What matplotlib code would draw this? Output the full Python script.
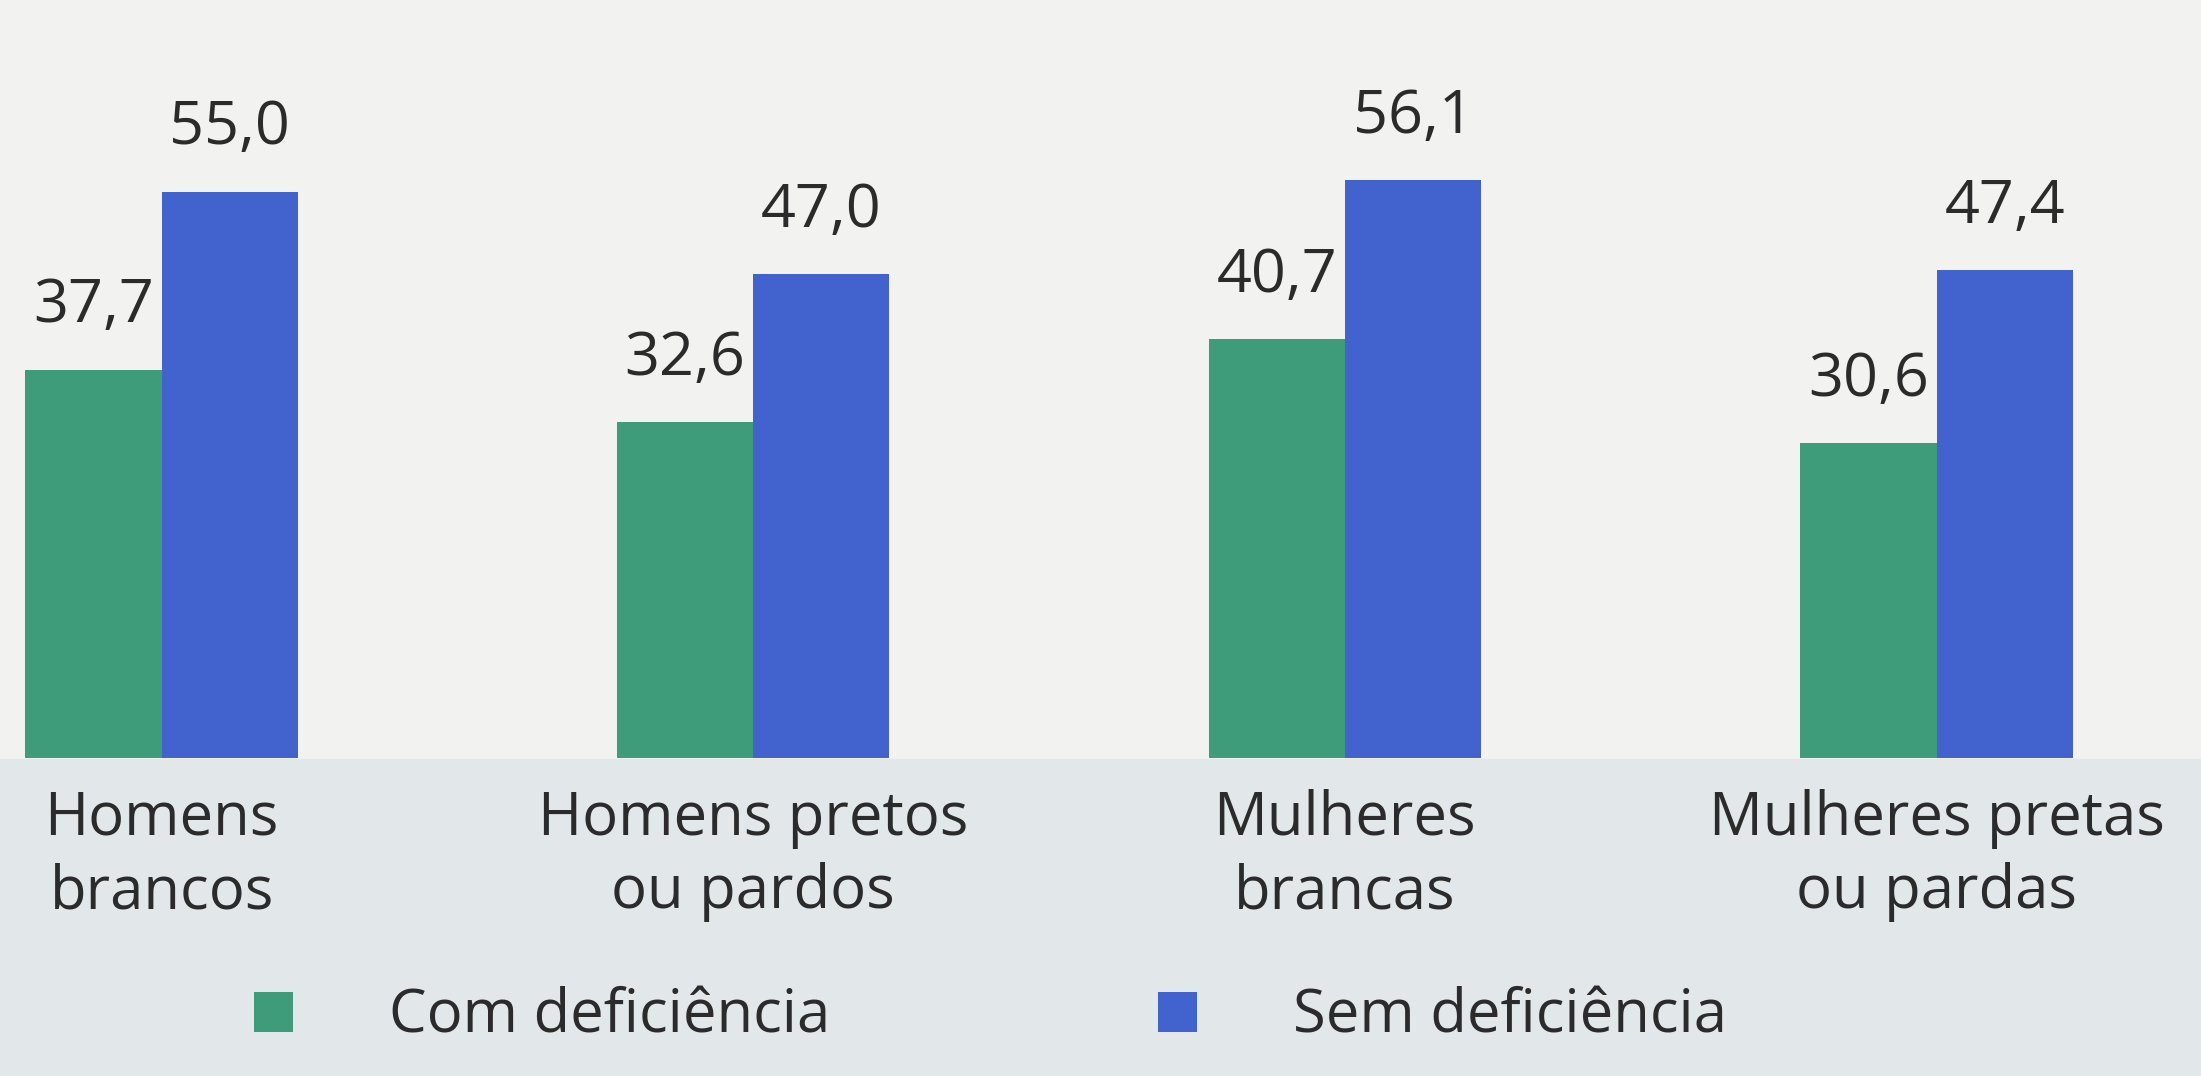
import numpy as np
import matplotlib
matplotlib.use('Agg')
import matplotlib.pyplot as plt
from matplotlib.patches import Rectangle

categories = ['Homens\nbrancos', 'Homens pretos\nou pardos', 'Mulheres\nbrancas', 'Mulheres pretas\nou pardas']
com_deficiencia = [37.7, 32.6, 40.7, 30.6]
sem_deficiencia = [55.0, 47.0, 56.1, 47.4]
series_names = ['Com deficiência', 'Sem deficiência']

green = '#3e9c7b'
blue = '#4263cd'
ink = '#2b2b2b'

plt.rcParams['font.family'] = ['Open Sans', 'DejaVu Sans']

fig = plt.figure(figsize=(22.01, 10.76), dpi=100)
fig.patch.set_facecolor('#f2f2f0')
# lighter page area at the bottom, like the printed sheet
fig.patches.append(Rectangle((0, 0), 1, 0.295, transform=fig.transFigure,
                             color='#e2e8e9', zorder=-1))

ax = fig.add_axes([0, 0.2955, 1, 0.7045])
ax.set_facecolor('none')
ax.set_zorder(2)

x = np.arange(len(categories))
w = 0.23
b1 = ax.bar(x - w / 2, com_deficiencia, w, color=green, label=series_names[0])
b2 = ax.bar(x + w / 2, sem_deficiencia, w, color=blue, label=series_names[1])

for bars, vals in ((b1, com_deficiencia), (b2, sem_deficiencia)):
    for r, v in zip(bars, vals):
        ax.annotate(f'{v:.1f}'.replace('.', ','),
                    (r.get_x() + r.get_width() / 2, r.get_height()),
                    xytext=(0, 24), textcoords='offset points',
                    ha='center', va='bottom', fontsize=44, color=ink)

ax.set_xlim(-0.273, 3.447)
ax.set_ylim(0, 73.6)
ax.set_xticks(x, categories, fontsize=43, color=ink, linespacing=1.3)
ax.tick_params(axis='x', length=0, pad=22)
ax.set_yticks([])
for s in ax.spines.values():
    s.set_visible(False)

fig.legend(loc='center', bbox_to_anchor=(0.45, 0.055), ncol=2, frameon=False,
           fontsize=43, handlelength=0.65, handleheight=0.65, columnspacing=5.5,
           handletextpad=1.6, labelcolor=ink)

fig.savefig('out.png', dpi=100, facecolor=fig.get_facecolor())
